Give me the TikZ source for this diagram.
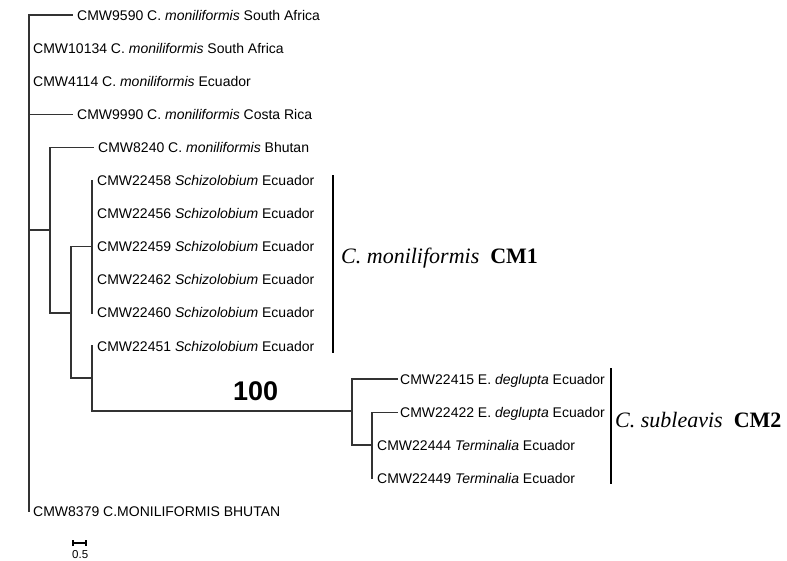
\documentclass[tikz,border=0pt]{standalone}
\usepackage{fontspec}
\setmainfont{Liberation Serif}
\newfontfamily\tipfamily{Liberation Sans}
\begin{document}
\begin{tikzpicture}[x=1pt,y=-1pt,
  branch/.style={line width=1.3pt,draw=black!80,line cap=rect},
  bracket/.style={line width=2.4pt,draw=black},
  tip/.style={anchor=base west,inner sep=0pt,font=\tipfamily\fontsize{14}{16}\selectfont},
  clade/.style={anchor=base west,inner sep=0pt,font=\fontsize{22}{26}\selectfont},
  boot/.style={anchor=base west,inner sep=0pt,font=\tipfamily\bfseries\fontsize{27}{30}\selectfont},
  scalelbl/.style={anchor=base west,inner sep=0pt,font=\tipfamily\fontsize{11.5}{13}\selectfont}]
\useasboundingbox (0,0) rectangle (787,560);
% row positions
\def\ra{15}\def\rb{48.1}\def\rc{81.2}\def\rd{114.3}\def\re{147.4}
\def\rf{180.5}\def\rg{213.6}\def\rh{246.7}\def\ri{279.8}\def\rj{312.9}
\def\rk{346}\def\rl{379.1}\def\rm{412.2}\def\rn{445.3}\def\ro{478.4}\def\rp{511.5}
% internal nodes
\coordinate (root) at (29,\ra);
\coordinate (rootbot) at (29,\rp);
\coordinate (nA) at (50,230);
\coordinate (nAtop) at (50,\re);
\coordinate (nAbot) at (50,313);
\coordinate (nB) at (71,313);
\coordinate (nBtop) at (71,\rh);
\coordinate (nBbot) at (71,378);
\coordinate (nC) at (92,\rh);
\coordinate (nCtop) at (92,\rf);
\coordinate (nCbot) at (92,\rj);
\coordinate (nD) at (92,378);
\coordinate (nDtop) at (92,\rk);
\coordinate (nDbot) at (92,411);
\coordinate (nE) at (352,411);
\coordinate (nEtop) at (352,\rl);
\coordinate (nEbot) at (352,445);
\coordinate (nF) at (372,445);
\coordinate (nFtop) at (372,\rm);
\coordinate (nFbot) at (372,\ro);
% branch tips
\coordinate (t0) at (72,\ra);
\coordinate (t3) at (72,\rd);
\coordinate (t4) at (93,\re);
\coordinate (t11) at (397,\rl);
\coordinate (t12) at (397,\rm);
% tree
\draw[branch] (t0) -- (root) -- (rootbot);
\draw[branch] (root |- t3) -- (t3);
\draw[branch] (root |- nA) -- (nA);
\draw[branch] (nAtop) -- (nAbot);
\draw[branch] (nAtop) -- (t4);
\draw[branch] (nAbot) -- (nB);
\draw[branch] (nBtop) -- (nBbot);
\draw[branch] (nBtop) -- (nC);
\draw[branch] (nCtop) -- (nCbot);
\draw[branch] (nBbot) -- (nD);
\draw[branch] (nDtop) -- (nDbot);
\draw[branch] (nDbot) -- (nE);
\draw[branch] (nEtop) -- (nEbot);
\draw[branch] (nEtop) -- (t11);
\draw[branch] (nEbot) -- (nF);
\draw[branch] (nFtop) -- (nFbot);
\draw[branch] (nFtop) -- (t12);
% labels
\node[tip] (L0) at (77,\ra+5) {CMW9590 C. \textit{moniliformis} South Africa};
\node[tip] (L1) at (33,\rb+5) {CMW10134 C. \textit{moniliformis} South Africa};
\node[tip] (L2) at (33,\rc+5) {CMW4114 C. \textit{moniliformis} Ecuador};
\node[tip] (L3) at (77,\rd+5) {CMW9990 C. \textit{moniliformis} Costa Rica};
\node[tip] (L4) at (98,\re+5) {CMW8240 C. \textit{moniliformis} Bhutan};
\node[tip] (L5) at (97,\rf+5) {CMW22458 \textit{Schizolobium} Ecuador};
\node[tip] (L6) at (97,\rg+5) {CMW22456 \textit{Schizolobium} Ecuador};
\node[tip] (L7) at (97,\rh+5) {CMW22459 \textit{Schizolobium} Ecuador};
\node[tip] (L8) at (97,\ri+5) {CMW22462 \textit{Schizolobium} Ecuador};
\node[tip] (L9) at (97,\rj+5) {CMW22460 \textit{Schizolobium} Ecuador};
\node[tip] (L10) at (97,\rk+5) {CMW22451 \textit{Schizolobium} Ecuador};
\node[tip] (L11) at (400,\rl+5) {CMW22415 E. \textit{deglupta} Ecuador};
\node[tip] (L12) at (400,\rm+5) {CMW22422 E. \textit{deglupta} Ecuador};
\node[tip] (L13) at (377,\rn+5) {CMW22444 \textit{Terminalia} Ecuador};
\node[tip] (L14) at (377,\ro+5) {CMW22449 \textit{Terminalia} Ecuador};
\node[tip] (L15) at (33,\rp+5) {CMW8379 C.MONILIFORMIS BHUTAN};
% bootstrap
\node[boot] (bs) at (233,400) {100};
% clade brackets
\coordinate (b1t) at (333,175);
\coordinate (b1b) at (333,353);
\draw[bracket] (b1t) -- (b1b);
\node[clade] (c1) at (341,263) {\textit{C. moniliformis}\ \ \textbf{CM1}};
\coordinate (b2t) at (611,368);
\coordinate (b2b) at (611,484);
\draw[bracket] (b2t) -- (b2b);
\node[clade] (c2) at (615,427) {\textit{C. subleavis}\ \ \textbf{CM2}};
% scale bar
\coordinate (s1) at (73,543);
\coordinate (s2) at (86,543);
\draw[line width=1.2pt] (s1) -- (s2);
\draw[line width=1.2pt] ([yshift=-3]s1) -- ([yshift=3]s1);
\draw[line width=1.2pt] ([yshift=-3]s2) -- ([yshift=3]s2);
\node[scalelbl] (sl) at (72,558) {0.5};
\end{tikzpicture}
\end{document}
